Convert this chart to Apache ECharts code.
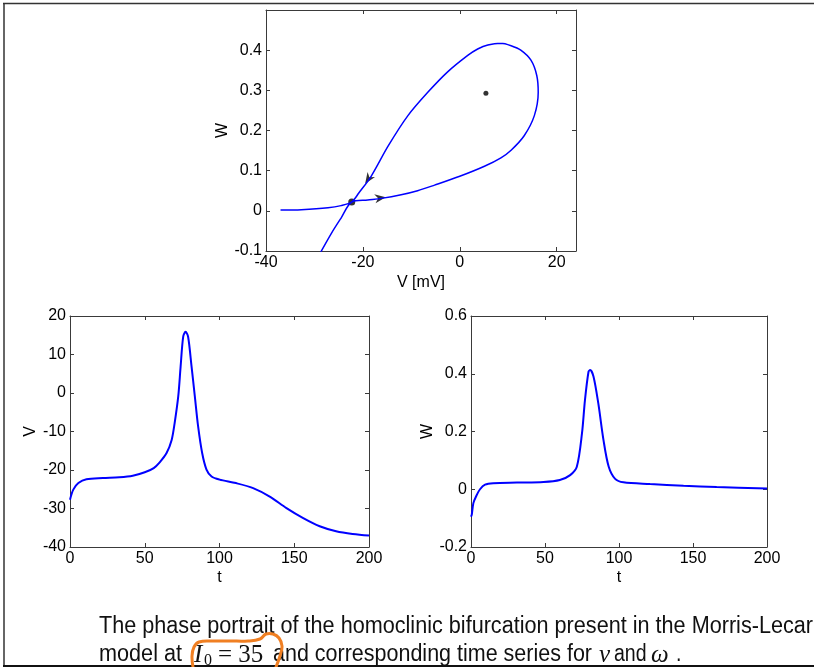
<!DOCTYPE html>
<html>
<head>
<meta charset="utf-8">
<script src="https://cdn.jsdelivr.net/npm/echarts@6/dist/echarts.min.js"></script>
<style>
  html, body { margin: 0; padding: 0; background: #fff; }
  #main { width: 814px; height: 667px; }
</style>
</head>
<body>
<div id="main"></div>
<script>
// Phase portrait trajectory (V in mV, W), in the order it is traversed
const phaseV = [-28.8, -26.5, -24.5, -22.3, -19.0, -16.2, -12.1, -8.7, -5.2, 0.0, 5.1, 8.5, 10.6, 13.3, 15.4, 16.2, 15.9, 14.7, 12.6, 10.6, 8.5, 5.8, 3.7, 1.65, -2.5, -6.6, -10.7, -14.8, -18.3, -20.8, -22.3, -24.5, -27.2, -32.7, -37.0];
const phaseW = [-0.105, -0.056, -0.018, 0.022, 0.027, 0.031, 0.040, 0.050, 0.064, 0.086, 0.111, 0.132, 0.151, 0.187, 0.237, 0.295, 0.337, 0.375, 0.400, 0.411, 0.417, 0.413, 0.403, 0.387, 0.346, 0.295, 0.237, 0.161, 0.086, 0.045, 0.022, 0.013, 0.0075, 0.003, 0.002];

// Equilibria: saddle and unstable focus
const saddlePoint = [-22.3, 0.022];
const focusPoint = [5.4, 0.293];

// Flow direction markers: position on the curve and a point further along the flow
const arrowAt = [[-18.9, 0.079], [-16.4, 0.032]];
const arrowToward = [[-20.8, 0.045], [-12.1, 0.040]];

// Time series of V
const vTime = [0, 2.2, 5.6, 11, 22, 33, 42, 50, 56, 60, 64.6, 68, 70, 72.4, 74, 75.7, 77.3, 79, 81.3, 83.5, 85.7, 88.4, 91.3, 94.7, 100, 111, 122.5, 133.6, 144.8, 156, 167, 178, 189, 200];
const vValues = [-27.7, -25.1, -23.4, -22.4, -22.1, -21.9, -21.5, -20.6, -19.5, -18.0, -15.6, -12.2, -7.8, -0.9, 6.9, 14.6, 15.9, 14.6, 6.9, -0.9, -8.7, -15.6, -19.9, -21.7, -22.5, -23.4, -24.7, -26.9, -29.9, -32.5, -34.6, -35.9, -36.6, -37.0];

// Time series of W
const wTime = [0, 0.5, 1.6, 3.4, 6.1, 9.5, 15, 31, 49, 60, 67, 71.5, 75, 77, 79.4, 80.5, 82.8, 86, 89.5, 93, 97.4, 103, 121, 143.6, 166, 200];
const wValues = [-0.095, -0.089, -0.048, -0.025, 0.0, 0.016, 0.021, 0.023, 0.025, 0.032, 0.049, 0.078, 0.194, 0.309, 0.407, 0.413, 0.39, 0.298, 0.171, 0.079, 0.036, 0.024, 0.018, 0.012, 0.0075, 0.003];

// Tick settings
const phaseXTicks = { min: -40, max: 24, interval: 20 };
const phaseYTicks = { min: -0.1, max: 0.5, interval: 0.1 };
const timeTicks = { min: 0, max: 200, interval: 50 };
const vTicks = { min: -40, max: 20, interval: 10 };
const wTicks = { min: -0.2, max: 0.6, interval: 0.2 };

const zip = (a, b) => a.map((x, i) => [x, b[i]]);

const SANS = "'Liberation Sans', Arial, Helvetica, sans-serif";
const AXIS_COLOR = '#3a3a3a';
const LINE_BLUE = '#0000ff';

function mainAxis(pos, grid, ticks, name, nameGap, showMax) {
  const isY = pos === 'left';
  return {
    type: 'value', gridIndex: grid, position: pos,
    min: ticks.min, max: ticks.max, interval: ticks.interval,
    name: name, nameLocation: 'middle', nameGap: nameGap,
    nameRotate: isY ? 90 : 0,
    nameTextStyle: { color: '#000', fontFamily: SANS, fontSize: 16 },
    axisLine: { show: true, onZero: false, lineStyle: { color: AXIS_COLOR, width: 1 } },
    axisTick: { show: true, inside: true, length: 4, lineStyle: { color: AXIS_COLOR } },
    axisLabel: { color: '#000', fontFamily: SANS, fontSize: 16, margin: isY ? 4 : 4, showMaxLabel: showMax !== false },
    splitLine: { show: false }
  };
}
function mirrorAxis(pos, grid, ticks) {
  return {
    type: 'value', gridIndex: grid, position: pos,
    min: ticks.min, max: ticks.max, interval: ticks.interval,
    axisLine: { show: true, onZero: false, lineStyle: { color: AXIS_COLOR, width: 1 } },
    axisTick: { show: true, inside: true, length: 4, lineStyle: { color: AXIS_COLOR } },
    axisLabel: { show: false },
    splitLine: { show: false }
  };
}

const arrowSymbol = 'path://M10,5 L0,0 L3,5 L0,10 Z';

const chart = echarts.init(document.getElementById('main'), null, { renderer: 'canvas' });

// Caption, frame and the hand-drawn highlight around the parameter value
function buildGraphics() {
  const capSize = 23;
  const sansFont = capSize + "px 'Liberation Sans', Arial, sans-serif";
  const measure = document.createElement('canvas').getContext('2d');
  measure.font = sansFont;

  // sans text condensed to span a given width
  const sansText = (text, x, y, width) => ({
    type: 'text', x: x, y: y,
    scaleX: width ? width / measure.measureText(text).width : 0.85,
    style: { text: text, font: sansFont, fill: '#111', verticalAlign: 'middle' }
  });
  const serifText = (text, x, y, size, italic) => ({
    type: 'text', x: x, y: y,
    style: {
      text: text,
      font: (italic ? 'italic ' : '') + size + "px 'Liberation Serif', 'DejaVu Serif', serif",
      fill: '#111', verticalAlign: 'middle'
    }
  });

  const y1 = 627, y2 = 655;
  return [
    { type: 'line', shape: { x1: 3, y1: 3.5, x2: 814, y2: 3.5 }, style: { stroke: '#333', lineWidth: 1.5 } },
    { type: 'line', shape: { x1: 4, y1: 3, x2: 4, y2: 666 }, style: { stroke: '#333', lineWidth: 1.5 } },
    { type: 'line', shape: { x1: 3, y1: 666, x2: 814, y2: 666 }, style: { stroke: '#111', lineWidth: 2 } },
    sansText('The phase portrait of the homoclinic bifurcation present in the Morris-Lecar', 99, y1, 714),
    sansText('model at', 99, y2, 83),
    serifText('I', 194, y2, 25, true),
    serifText('0', 204, y2 + 6, 16, false),
    serifText('= 35', 218, y2, 25, false),
    sansText('and corresponding time series for', 273, y2, 319),
    serifText('v', 599, y2, 25, true),
    sansText('and', 614, y2),
    serifText('ω', 651, y2, 25, true),
    sansText('.', 676, y2),
    {
      type: 'polyline', z: 100,
      shape: {
        points: [[193, 667], [192, 656], [194, 647], [199, 642], [212, 641], [230, 641], [248, 641], [260, 639], [266, 634], [273, 634], [279, 638], [282, 646], [280, 656], [276, 667]],
        smooth: 0.4
      },
      style: { fill: null, stroke: '#f07f22', lineWidth: 3, lineCap: 'round', lineJoin: 'round' }
    }
  ];
}

function buildOption(arrowRotations) {
  return {
    animation: false,
    backgroundColor: '#fff',
    grid: [
      { left: 266, top: 10, width: 310, height: 241 },
      { left: 70, top: 316, width: 299, height: 231 },
      { left: 471, top: 316, width: 296, height: 231 }
    ],
    xAxis: [
      mainAxis('bottom', 0, phaseXTicks, 'V [mV]', 24, false),
      mirrorAxis('top', 0, phaseXTicks),
      mainAxis('bottom', 1, timeTicks, 't', 23),
      mirrorAxis('top', 1, timeTicks),
      mainAxis('bottom', 2, timeTicks, 't', 23),
      mirrorAxis('top', 2, timeTicks)
    ],
    yAxis: [
      mainAxis('left', 0, phaseYTicks, 'W', 35, false),
      mirrorAxis('right', 0, phaseYTicks),
      mainAxis('left', 1, vTicks, 'V', 31),
      mirrorAxis('right', 1, vTicks),
      mainAxis('left', 2, wTicks, 'W', 35),
      mirrorAxis('right', 2, wTicks)
    ],
    series: [
      {
        type: 'line', xAxisIndex: 0, yAxisIndex: 0, data: zip(phaseV, phaseW),
        showSymbol: false, smooth: 0.3, clip: true,
        lineStyle: { color: LINE_BLUE, width: 1.5 }
      },
      {
        type: 'scatter', xAxisIndex: 0, yAxisIndex: 0,
        data: [saddlePoint], symbolSize: 7, itemStyle: { color: '#000' }
      },
      {
        type: 'scatter', xAxisIndex: 0, yAxisIndex: 0,
        data: [focusPoint], symbolSize: 5, itemStyle: { color: '#000' }
      },
      {
        type: 'scatter', xAxisIndex: 0, yAxisIndex: 0,
        data: arrowAt.map((p, i) => ({ value: p, symbolRotate: arrowRotations[i] })),
        symbol: arrowSymbol, symbolSize: [11, 9],
        itemStyle: { color: '#000' }
      },
      {
        type: 'line', xAxisIndex: 2, yAxisIndex: 2, data: zip(vTime, vValues),
        showSymbol: false, smooth: 0.3,
        lineStyle: { color: LINE_BLUE, width: 2 }
      },
      {
        type: 'line', xAxisIndex: 4, yAxisIndex: 4, data: zip(wTime, wValues),
        showSymbol: false, smooth: 0.3,
        lineStyle: { color: LINE_BLUE, width: 2 }
      }
    ],
    graphic: buildGraphics()
  };
}

chart.setOption(buildOption([0, 0]));

// Orient the flow markers along the curve in screen space
const rotations = arrowAt.map((p, i) => {
  const a = chart.convertToPixel({ gridIndex: 0 }, p);
  const b = chart.convertToPixel({ gridIndex: 0 }, arrowToward[i]);
  return Math.atan2(-(b[1] - a[1]), b[0] - a[0]) * 180 / Math.PI;
});
chart.setOption(buildOption(rotations));
</script>
</body>
</html>
